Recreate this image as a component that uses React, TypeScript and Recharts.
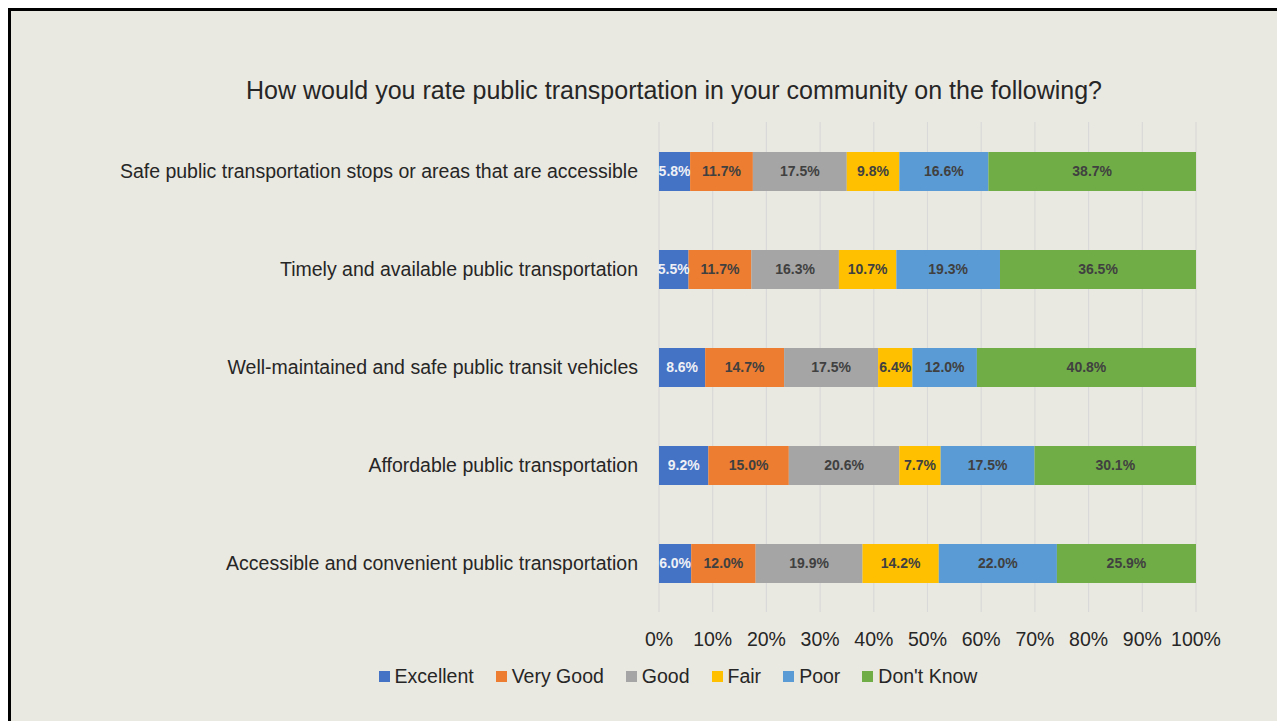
import React from 'react';
import { BarChart, Bar, XAxis, YAxis, CartesianGrid, Legend, LabelList } from 'recharts';

const categories = [
  'Safe public transportation stops or areas that are accessible',
  'Timely and available public transportation',
  'Well-maintained and safe public transit vehicles',
  'Affordable public transportation',
  'Accessible and convenient public transportation',
];

const excellent = [5.8, 5.5, 8.6, 9.2, 6.0];
const veryGood = [11.7, 11.7, 14.7, 15.0, 12.0];
const good = [17.5, 16.3, 17.5, 20.6, 19.9];
const fair = [9.8, 10.7, 6.4, 7.7, 14.2];
const poor = [16.6, 19.3, 12.0, 17.5, 22.0];
const dontKnow = [38.7, 36.5, 40.8, 30.1, 25.9];

const xTicks = [0, 0.1, 0.2, 0.3, 0.4, 0.5, 0.6, 0.7, 0.8, 0.9, 1];

const series = [
  { key: 'excellent', name: 'Excellent', color: '#4472C4', label: '#EEF0F6' },
  { key: 'veryGood', name: 'Very Good', color: '#ED7D31', label: '#404040' },
  { key: 'good', name: 'Good', color: '#A5A5A5', label: '#404040' },
  { key: 'fair', name: 'Fair', color: '#FFC000', label: '#404040' },
  { key: 'poor', name: 'Poor', color: '#5B9BD5', label: '#404040' },
  { key: 'dontKnow', name: "Don't Know", color: '#70AD47', label: '#404040' },
];

const data = categories.map((name, i) => ({
  name,
  excellent: excellent[i],
  veryGood: veryGood[i],
  good: good[i],
  fair: fair[i],
  poor: poor[i],
  dontKnow: dontKnow[i],
}));

const font = '"Liberation Sans", Arial, sans-serif';

const renderLegend = () => (
  <div style={{ display: 'flex', justifyContent: 'center', alignItems: 'center' }}>
    {series.map((s, i) => (
      <div key={s.key} style={{ display: 'flex', alignItems: 'center', marginRight: i < series.length - 1 ? 22 : 0 }}>
        <span style={{ display: 'inline-block', width: 11, height: 11, background: s.color, marginRight: 5 }} />
        <span style={{ color: '#262626' }}>{s.name}</span>
      </div>
    ))}
  </div>
);

export default function App() {
  return (
    <div
      style={{
        position: 'relative',
        width: 1277,
        height: 713,
        background: '#EAE9E1',
        borderTop: '3px solid #000',
        borderLeft: '3px solid #000',
        boxSizing: 'border-box',
        fontFamily: font,
        overflow: 'hidden',
      }}
    >
      <div
        style={{
          position: 'absolute',
          top: 65,
          left: 0,
          width: 1326,
          textAlign: 'center',
          fontSize: 25,
          color: '#262626',
        }}
      >
        How would you rate public transportation in your community on the following?
      </div>
      <BarChart
        width={1274}
        height={710}
        data={data}
        layout="vertical"
        stackOffset="expand"
        barSize={39}
        margin={{ top: 111, right: 89, bottom: 56, left: 0 }}
        style={{ position: 'absolute', top: 0, left: 0 }}
      >
        <CartesianGrid horizontal={false} stroke="#D9D9D9" strokeWidth={1.2} />
        <XAxis
          type="number"
          domain={[0, 1]}
          ticks={xTicks}
          tickFormatter={(v: number) => `${Math.round(v * 100)}%`}
          axisLine={false}
          tickLine={false}
          tickMargin={14}
          tick={{ fill: '#262626', fontSize: 19.5, fontFamily: font }}
          interval={0}
        />
        <YAxis
          type="category"
          dataKey="name"
          width={648}
          axisLine={false}
          tickLine={false}
          tickMargin={15}
          tick={{ fill: '#262626', fontSize: 19.5, fontFamily: font }}
          interval={0}
        />
        <Legend
          content={renderLegend}
          wrapperStyle={{ top: 654, left: 347, width: 640, fontSize: 19.5, fontFamily: font }}
        />
        {series.map((s) => (
          <Bar key={s.key} dataKey={s.key} name={s.name} stackId="a" fill={s.color} isAnimationActive={false}>
            <LabelList
              dataKey={s.key}
              position="center"
              formatter={(v: number) => `${Number(v).toFixed(1)}%`}
              style={{ fill: s.label, fontSize: 14, fontWeight: 'bold', fontFamily: font }}
            />
          </Bar>
        ))}
      </BarChart>
    </div>
  );
}
